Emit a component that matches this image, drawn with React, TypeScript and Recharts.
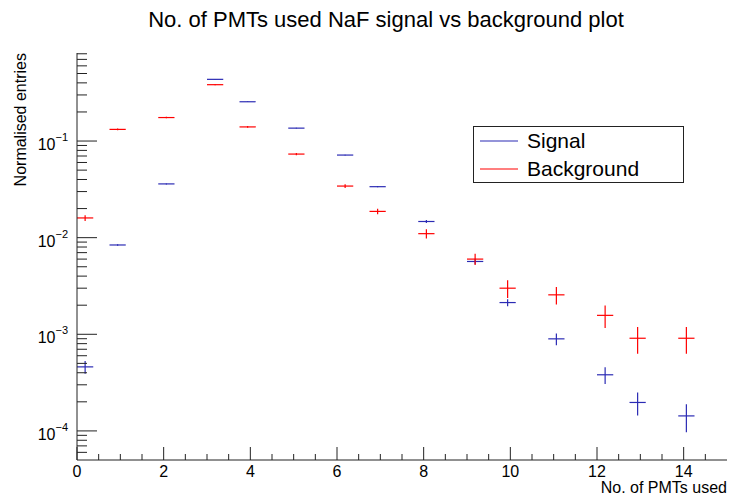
import { ErrorBar, Scatter, ScatterChart, XAxis, YAxis } from "recharts";

// bin centres (No. of PMTs) and half bin width
const binCenters = [0.1875, 0.9375, 2.0625, 3.1875, 3.9375, 5.0625, 6.1875, 6.9375, 8.0625, 9.1875, 9.9375, 11.0625, 12.1875, 12.9375, 14.0625];
const binHalfWidths = [0.1875, 0.1875, 0.1875, 0.1875, 0.1875, 0.1875, 0.1875, 0.1875, 0.1875, 0.1875, 0.1875, 0.1875, 0.1875, 0.1875, 0.1875];

const signal = [4.6e-4, 8.4e-3, 0.036, 0.435, 0.255, 0.136, 0.0716, 0.0337, 0.0147, 5.67e-3, 2.13e-3, 8.97e-4, 3.81e-4, 1.97e-4, 1.43e-4];
const signalErr = [0.7e-4, 1.3e-4, 4e-4, 2e-3, 1.5e-3, 1e-3, 7e-4, 5e-4, 5e-4, 3.7e-4, 1.8e-4, 1.25e-4, 7.5e-5, 5.3e-5, 4.6e-5];

const background = [0.016, 0.132, 0.175, 0.383, 0.14, 0.0733, 0.0342, 0.0187, 0.011, 6.0e-3, 3.0e-3, 2.56e-3, 1.57e-3, 9.1e-4, 9.1e-4];
const backgroundErr = [1.1e-3, 3e-3, 3e-3, 5e-3, 3e-3, 2e-3, 1.5e-3, 1.2e-3, 1.2e-3, 8e-4, 6.3e-4, 5.3e-4, 4.1e-4, 2.8e-4, 2.8e-4];

const seriesNames = ["Signal", "Background"];
const seriesColors = ["#2b2bb4", "#ff0000"];

const xDomain = [0, 15];
const xMajorTicks = [0, 2, 4, 6, 8, 10, 12, 14];
const xTicks = [0, 0.5, 1, 1.5, 2, 2.5, 3, 3.5, 4, 4.5, 5, 5.5, 6, 6.5, 7, 7.5, 8, 8.5, 9, 9.5, 10, 10.5, 11, 11.5, 12, 12.5, 13, 13.5, 14, 14.5];

const yDomain = [5e-5, 0.815];
const yMajorTicks = [1e-4, 1e-3, 1e-2, 1e-1];
const yMajorLabels = ["−4", "−3", "−2", "−1"];
const yTicks = [
  6e-5, 7e-5, 8e-5, 9e-5,
  1e-4, 2e-4, 3e-4, 4e-4, 5e-4, 6e-4, 7e-4, 8e-4, 9e-4,
  1e-3, 2e-3, 3e-3, 4e-3, 5e-3, 6e-3, 7e-3, 8e-3, 9e-3,
  1e-2, 2e-2, 3e-2, 4e-2, 5e-2, 6e-2, 7e-2, 8e-2, 9e-2,
  1e-1, 2e-1, 3e-1, 4e-1, 5e-1, 6e-1, 7e-1, 8e-1,
];

const font = "'Liberation Sans', Arial, Helvetica, sans-serif";

const signalData = binCenters.map((x, i) => ({ x, y: signal[i], ex: binHalfWidths[i], ey: signalErr[i] }));
const backgroundData = binCenters.map((x, i) => ({ x, y: background[i], ex: binHalfWidths[i], ey: backgroundErr[i] }));

// ROOT style: ticks point into the frame
function XTick(props: any) {
  const { x, y, payload } = props;
  const major = xMajorTicks.includes(payload.value);
  return (
    <g>
      <line x1={x} x2={x} y1={y} y2={y - (major ? 13 : 6)} stroke="#222" />
      {major && (
        <text x={x} y={y + 17} textAnchor="middle" fontSize={16} fontFamily={font} fill="#000">
          {payload.value}
        </text>
      )}
    </g>
  );
}

function YTick(props: any) {
  const { x, y, payload } = props;
  const idx = yMajorTicks.indexOf(payload.value);
  const major = idx >= 0;
  return (
    <g>
      <line x1={x} x2={x + (major ? 20 : 10)} y1={y} y2={y} stroke="#222" />
      {major && (
        <text x={x - 9} y={y + 9} textAnchor="end" fontSize={16} fontFamily={font} fill="#000">
          10
          <tspan dy={-9} fontSize={11}>{yMajorLabels[idx]}</tspan>
        </text>
      )}
    </g>
  );
}

export default function App() {
  return (
    <div style={{ position: "absolute", left: 0, top: 0, width: 731, height: 497, background: "#fff" }}>
      <ScatterChart width={731} height={497} margin={{ top: 53, right: 4, left: 0, bottom: 0 }}>
        <XAxis
          dataKey="x"
          type="number"
          domain={xDomain}
          ticks={xTicks}
          interval={0}
          height={37}
          tickSize={0}
          tickMargin={0}
          tickLine={false}
          axisLine={{ stroke: "#222" }}
          tick={<XTick />}
          allowDataOverflow
        />
        <XAxis xAxisId="top" orientation="top" type="number" domain={xDomain} height={0} tick={false} tickLine={false} axisLine={{ stroke: "#222" }} />
        <YAxis
          dataKey="y"
          type="number"
          scale="log"
          domain={yDomain}
          ticks={yTicks}
          interval={0}
          width={77}
          tickSize={0}
          tickMargin={0}
          tickLine={false}
          axisLine={{ stroke: "#222" }}
          tick={<YTick />}
          allowDataOverflow
        />
        <YAxis yAxisId="right" orientation="right" type="number" domain={[0, 1]} width={0} tick={false} tickLine={false} axisLine={{ stroke: "#222" }} />
        <Scatter name={seriesNames[0]} data={signalData} fill={seriesColors[0]} shape={() => <g />} isAnimationActive={false}>
          <ErrorBar dataKey="ex" direction="x" width={0} stroke={seriesColors[0]} strokeWidth={1.2} isAnimationActive={false} />
          <ErrorBar dataKey="ey" direction="y" width={0} stroke={seriesColors[0]} strokeWidth={1.2} isAnimationActive={false} />
        </Scatter>
        <Scatter name={seriesNames[1]} data={backgroundData} fill={seriesColors[1]} shape={() => <g />} isAnimationActive={false}>
          <ErrorBar dataKey="ex" direction="x" width={0} stroke={seriesColors[1]} strokeWidth={1.2} isAnimationActive={false} />
          <ErrorBar dataKey="ey" direction="y" width={0} stroke={seriesColors[1]} strokeWidth={1.2} isAnimationActive={false} />
        </Scatter>
      </ScatterChart>

      <svg width={731} height={497} style={{ position: "absolute", left: 0, top: 0, pointerEvents: "none" }}>
        <text x={386} y={27} textAnchor="middle" fontSize={22} fontFamily={font} fill="#000">
          No. of PMTs used NaF signal vs background plot
        </text>
        <text x={727} y={493} textAnchor="end" fontSize={16} fontFamily={font} fill="#000">
          No. of PMTs used
        </text>
        <text transform="translate(26,53) rotate(-90)" textAnchor="end" fontSize={16} fontFamily={font} fill="#000">
          Normalised entries
        </text>
        <g>
          <rect x={473.5} y={126.5} width={210} height={56} fill="#fff" stroke="#222" />
          {seriesNames.map((name, i) => (
            <g key={name}>
              <line x1={480} x2={518} y1={141 + i * 28} y2={141 + i * 28} stroke={seriesColors[i]} strokeWidth={1.2} />
              <text x={527} y={148 + i * 28} fontSize={21} fontFamily={font} fill="#000">
                {name}
              </text>
            </g>
          ))}
        </g>
      </svg>
    </div>
  );
}
